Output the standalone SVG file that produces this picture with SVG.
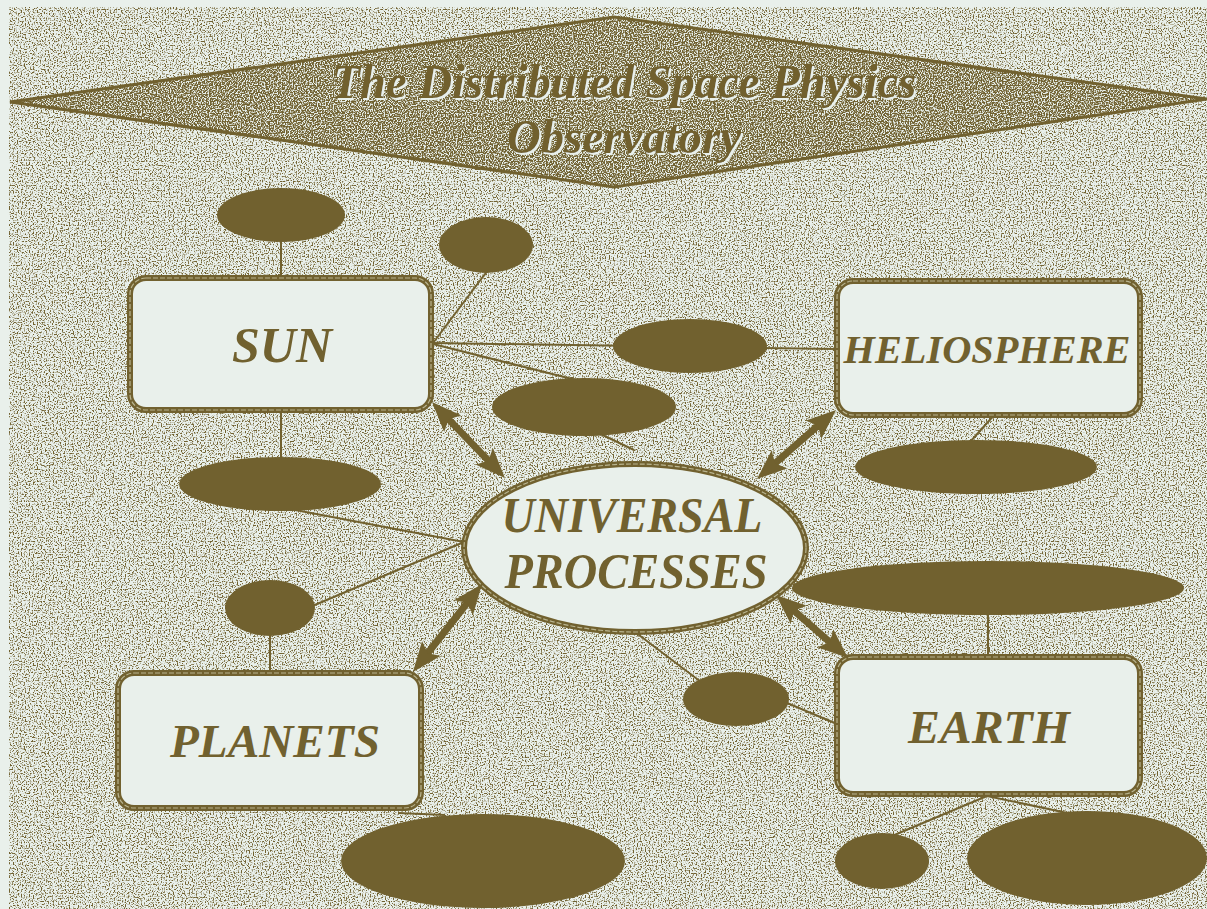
<svg xmlns="http://www.w3.org/2000/svg" width="1207" height="909" viewBox="0 0 1207 909">
<style>
.bg{fill:#E9F0EB}
.ol{fill:#71612F}
.ln{stroke:#71612F;stroke-width:2;fill:none}
.ar{stroke:#71612F;stroke-width:7;fill:none;marker-start:url(#ah);marker-end:url(#ah)}
.box{fill:#E9F0EB;stroke:#71612F;stroke-width:6}
.boxin{fill:none;stroke:#B9B48F;stroke-width:1.2;stroke-dasharray:5 2}
.lbl{font-family:"Liberation Serif","Times New Roman",serif;font-weight:bold;font-style:italic;fill:#71612F;text-anchor:middle}
.ttl{font-family:"Liberation Serif","Times New Roman",serif;font-weight:bold;font-style:italic;text-anchor:middle;font-size:45px;fill:#71612F}
</style>
<defs>
<filter id="spk" filterUnits="userSpaceOnUse" x="0" y="0" width="1207" height="909" color-interpolation-filters="sRGB">
<feTurbulence type="fractalNoise" baseFrequency="0.75" numOctaves="1" seed="4" result="t"/>
<feColorMatrix in="t" type="matrix" values="0 0 0 0 0.44  0 0 0 0 0.38  0 0 0 0 0.19  6 0 0 0 -3.0" result="c"/>
<feComposite in="c" in2="SourceAlpha" operator="in"/>
</filter>
<filter id="spk2" filterUnits="userSpaceOnUse" x="0" y="0" width="1207" height="909" color-interpolation-filters="sRGB">
<feTurbulence type="fractalNoise" baseFrequency="0.75" numOctaves="1" seed="9" result="t"/>
<feColorMatrix in="t" type="matrix" values="0 0 0 0 0.44  0 0 0 0 0.38  0 0 0 0 0.19  6 0 0 0 -2.3" result="c"/>
<feComposite in="c" in2="SourceAlpha" operator="in"/>
</filter>
<filter id="sh" x="-5%" y="-20%" width="110%" height="140%">
<feOffset in="SourceAlpha" dx="2" dy="2" result="o"/>
<feFlood flood-color="#E9F0EB"/>
<feComposite in2="o" operator="in" result="s"/>
<feMerge><feMergeNode in="s"/><feMergeNode in="SourceGraphic"/></feMerge>
</filter>
<marker id="ah" viewBox="0 0 30 24" refX="16" refY="12" markerWidth="30" markerHeight="24" markerUnits="userSpaceOnUse" orient="auto-start-reverse">
<path d="M0,0 L30,12 L0,24 L6,12 z" fill="#71612F"/>
</marker>
</defs>
<rect class="bg" x="0" y="0" width="1207" height="909"/>
<rect x="9" y="7" width="1198" height="902" fill="#000" filter="url(#spk)"/>
<g id="title">
<polygon points="10,102 614,17 1207,99 614,187" fill="#E9F0EB"/>
<polygon points="10,102 614,17 1207,99 614,187" fill="#000" filter="url(#spk2)"/>
<polygon points="10,102 614,17 1207,99 614,187" fill="none" stroke="#71612F" stroke-width="3"/>
<g filter="url(#sh)">
<g transform="translate(624,98) scale(1,1.1)"><text class="ttl" x="0" y="0" textLength="585" lengthAdjust="spacingAndGlyphs">The Distributed Space Physics</text></g>
<g transform="translate(624,153) scale(1,1.1)"><text class="ttl" x="0" y="0" textLength="234" lengthAdjust="spacingAndGlyphs">Observatory</text></g>
</g>
</g>
<g id="connectors">
<line class="ln" x1="281" y1="240" x2="281" y2="278"/>
<line class="ln" x1="488" y1="270" x2="433" y2="343"/>
<line class="ln" x1="433" y1="343" x2="837" y2="349"/>
<line class="ln" x1="433" y1="344" x2="600" y2="386"/>
<line class="ln" x1="588" y1="428" x2="634" y2="450"/>
<line class="ln" x1="996" y1="413" x2="970" y2="442"/>
<line class="ln" x1="281" y1="410" x2="281" y2="460"/>
<line class="ln" x1="290" y1="509" x2="464" y2="542"/>
<line class="ln" x1="310" y1="607" x2="464" y2="542"/>
<line class="ln" x1="270" y1="632" x2="270" y2="673"/>
<line class="ln" x1="398" y1="813" x2="445" y2="815"/>
<line class="ln" x1="988" y1="612" x2="988" y2="657"/>
<line class="ln" x1="635" y1="632" x2="705" y2="685"/>
<line class="ln" x1="780" y1="700" x2="837" y2="724"/>
<line class="ln" x1="987" y1="796" x2="892" y2="836"/>
<line class="ln" x1="987" y1="796" x2="1072" y2="814"/>
<line class="ar" x1="441.7" y1="412.1" x2="495.3" y2="467.9"/>
<line class="ar" x1="825.5" y1="419.2" x2="767.5" y2="469.8"/>
<line class="ar" x1="473.4" y1="595" x2="421.6" y2="661"/>
<line class="ar" x1="786.5" y1="604.2" x2="837.5" y2="648.8"/>
</g>
<g id="sun">
<rect class="box" x="130" y="278" width="301" height="132" rx="16"/>
<rect class="boxin" x="130" y="278" width="301" height="132" rx="16"/>
<text class="lbl" x="282" y="362" font-size="50">SUN</text>
</g>
<g id="heliosphere">
<rect class="box" x="837" y="281" width="303" height="134" rx="16"/>
<rect class="boxin" x="837" y="281" width="303" height="134" rx="16"/>
<text class="lbl" x="987" y="363" font-size="40" textLength="287" lengthAdjust="spacingAndGlyphs">HELIOSPHERE</text>
</g>
<g id="planets">
<rect class="box" x="118" y="673" width="303" height="135" rx="16"/>
<rect class="boxin" x="118" y="673" width="303" height="135" rx="16"/>
<text class="lbl" x="275" y="757" font-size="47" textLength="210" lengthAdjust="spacingAndGlyphs">PLANETS</text>
</g>
<g id="earth">
<rect class="box" x="837" y="657" width="303" height="137" rx="16"/>
<rect class="boxin" x="837" y="657" width="303" height="137" rx="16"/>
<text class="lbl" x="989" y="743" font-size="47" textLength="162" lengthAdjust="spacingAndGlyphs">EARTH</text>
</g>
<g id="universal-processes">
<ellipse class="box" cx="635" cy="548" rx="171" ry="84"/>
<ellipse class="boxin" cx="635" cy="548" rx="171" ry="84"/>
<text class="lbl" x="632" y="532" font-size="50" textLength="261" lengthAdjust="spacingAndGlyphs">UNIVERSAL</text>
<text class="lbl" x="636" y="588" font-size="50" textLength="263" lengthAdjust="spacingAndGlyphs">PROCESSES</text>
</g>
<g id="e1"><ellipse class="ol" cx="281" cy="215" rx="64" ry="27"/></g>
<g id="e2"><ellipse class="ol" cx="486" cy="245" rx="47" ry="28"/></g>
<g id="e3"><ellipse class="ol" cx="690" cy="346" rx="77" ry="27"/></g>
<g id="e4"><ellipse class="ol" cx="584" cy="407" rx="92" ry="29"/></g>
<g id="e5"><ellipse class="ol" cx="976" cy="467" rx="121" ry="27"/></g>
<g id="e6"><ellipse class="ol" cx="280" cy="484" rx="101" ry="27"/></g>
<g id="e7"><ellipse class="ol" cx="270" cy="608" rx="45" ry="28"/></g>
<g id="e8"><ellipse class="ol" cx="483" cy="861" rx="142" ry="47"/></g>
<g id="e9"><ellipse class="ol" cx="988" cy="588" rx="196" ry="27"/></g>
<g id="e10"><ellipse class="ol" cx="736" cy="699" rx="53" ry="27"/></g>
<g id="e11"><ellipse class="ol" cx="882" cy="861" rx="47" ry="28"/></g>
<g id="e12"><ellipse class="ol" cx="1087" cy="858" rx="120" ry="47"/></g>
</svg>
